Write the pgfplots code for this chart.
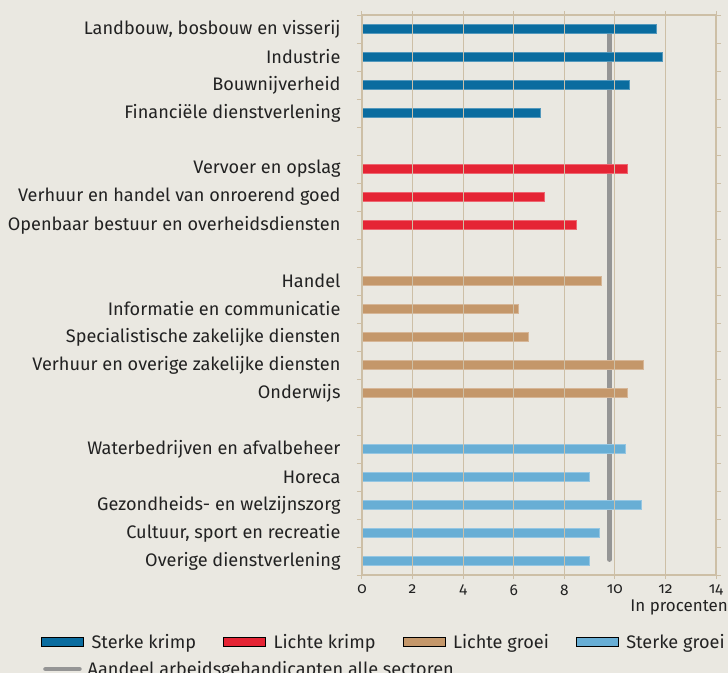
\documentclass[border=0pt]{standalone}
\usepackage{fontspec}
\setmainfont{Fira Sans}[Numbers=OldStyle]
\usepackage{pgfplots}
\pgfplotsset{compat=1.18}
\definecolor{bg}{HTML}{EAE8E1}
\definecolor{gridc}{HTML}{CDBFA6}
\definecolor{skrimp}{HTML}{0A6C9F}
\definecolor{lkrimp}{HTML}{E52434}
\definecolor{lgroei}{HTML}{C4976A}
\definecolor{sgroei}{HTML}{68AED5}
\definecolor{gemid}{HTML}{959595}
\definecolor{txt}{HTML}{222222}

\pgfplotsset{
  frame/.style={at={(362bp,98bp)}, anchor=south west,
    scale only axis, width=354bp, height=560bp},
  legfont/.style={draw=none, fill=none, font=\fontsize{18.2}{21}\selectfont, text=txt,
    inner sep=0pt, nodes={inner sep=0pt}},
  barleg/.style={legend image code/.code={\fill[#1] (0bp,-4.5bp) rectangle (42bp,4.5bp); \path (50bp,0);}},
  bars/.style={xbar, bar width=9.5bp, bar shift=0pt, fill=#1, draw=#1!70!white, line width=0.6bp},
}

\begin{document}
\begin{tikzpicture}
\useasboundingbox (0,0) rectangle (728bp,673bp);
\fill[bg] (0,0) rectangle (728bp,673bp);
\begin{axis}[frame,
  xmin=0, xmax=14, ymin=0.5, ymax=20.5, y dir=reverse,
  xtick={0,2,...,14}, xticklabels={0,2,4,6,8,10,12,14},
  ytick={1,...,20},
  yticklabels={{Landbouw, bosbouw en visserij},Industrie,Bouwnijverheid,Financiële dienstverlening,,
    Vervoer en opslag,Verhuur en handel van onroerend goed,Openbaar bestuur en overheidsdiensten,,
    Handel,Informatie en communicatie,Specialistische zakelijke diensten,Verhuur en overige zakelijke diensten,Onderwijs,,
    Waterbedrijven en afvalbeheer,Horeca,Gezondheids- en welzijnszorg,{Cultuur, sport en recreatie},Overige dienstverlening},
  minor ytick={0.5,1.5,...,20.5},
  major y tick style={draw=none},
  tick align=outside, major tick length=4bp, minor tick length=5bp,
  tick style={gridc, line width=1bp},
  xmajorgrids, grid style={gridc, line width=1.2bp},
  axis line style={gridc, line width=1.5bp},
  axis on top,
  tick label style={text=txt},
  yticklabel style={xshift=-14bp, font=\fontsize{18.2}{21}\selectfont},
  xticklabel style={yshift=-2bp, font=\fontsize{15.5}{18}\selectfont},
  xlabel={In procenten},
  xlabel style={at={(axis description cs:1,0)}, anchor=north east, xshift=12bp, yshift=-25bp,
    font=\fontsize{17}{20}\selectfont, text=txt, inner sep=0pt},
]
% average share, all sectors
\addplot[gemid, line width=4.5bp, line cap=round] coordinates {(9.78,1.1) (9.78,19.95)};
% Sterke krimp
\addplot[bars=skrimp] coordinates {(11.65,1) (11.89,2) (10.57,3) (7.05,4)};
% Lichte krimp
\addplot[bars=lkrimp] coordinates {(10.49,6) (7.20,7) (8.46,8)};
% Lichte groei
\addplot[bars=lgroei] coordinates {(9.48,10) (6.20,11) (6.59,12) (11.12,13) (10.49,14)};
% Sterke groei
\addplot[bars=sgroei] coordinates {(10.41,16) (9.00,17) (11.03,18) (9.40,19) (9.00,20)};
\end{axis}
% legend, first row
\begin{axis}[frame, hide axis, xmin=0, xmax=1, ymin=0, ymax=1,
  legend columns=4,
  legend style={legfont, at={(axis description cs:-0.9068,-0.1196)}, anchor=west,
    /tikz/every even column/.append style={column sep=27bp}},
  legend cell align=left]
\addlegendimage{barleg, fill=skrimp}
\addlegendentry{Sterke krimp}
\addlegendimage{barleg, fill=lkrimp}
\addlegendentry{Lichte krimp}
\addlegendimage{barleg, fill=lgroei}
\addlegendentry{Lichte groei}
\addlegendimage{barleg, fill=sgroei}
\addlegendentry{Sterke groei}
\end{axis}
% legend, second row
\begin{axis}[frame, hide axis, xmin=0, xmax=1, ymin=0, ymax=1,
  legend style={legfont, at={(axis description cs:-0.901,-0.1679)}, anchor=west},
  legend cell align=left]
\addlegendimage{legend image code/.code={\draw[gemid, line width=4.5bp, line cap=round] (2bp,0) -- (36bp,0); \path (44bp,0);}}
\addlegendentry{Aandeel arbeidsgehandicapten alle sectoren}
\end{axis}
\end{tikzpicture}
\end{document}
